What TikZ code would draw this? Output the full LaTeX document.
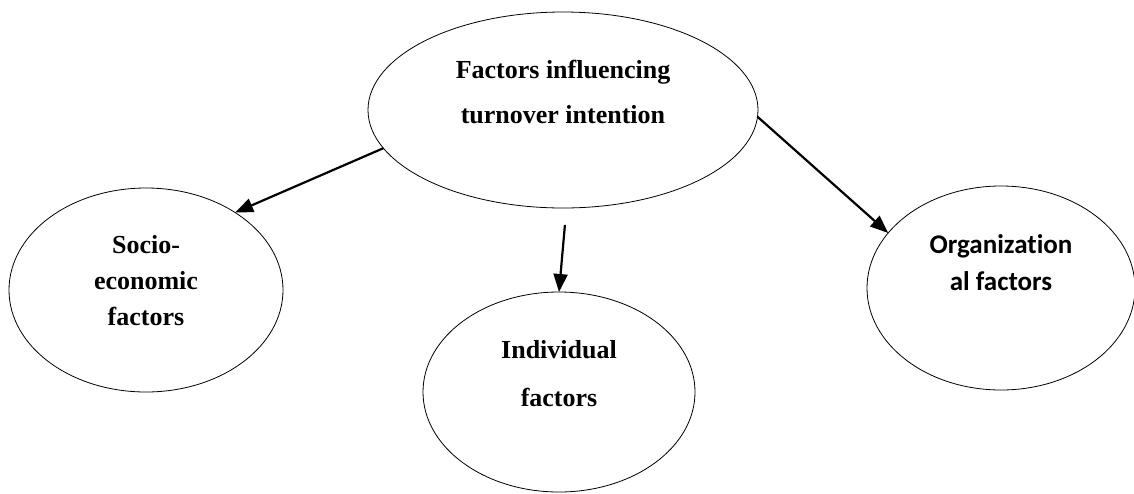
\documentclass[tikz,border=0pt]{standalone}
\usepackage{fontspec}
\setmainfont{Liberation Serif}
\newfontfamily\orgfont[Ligatures={NoCommon}]{Carlito}
\usetikzlibrary{shapes,arrows.meta,positioning,calc}

\begin{document}
\begin{tikzpicture}[x=1pt,y=-1pt,
    bubble/.style={draw, ellipse, line width=0.8pt, inner sep=0pt, outer sep=0pt},
    bubbletext/.style={font=\fontsize{26}{36}\selectfont\bfseries, align=center},
    link/.style={-{Triangle[length=18pt,width=14pt]}, line width=2.2pt}]
    \useasboundingbox (0,0) rectangle (1134,493);

    % Ellipses
    \node[bubble, minimum width=390pt, minimum height=196pt] (factors) at (563,110) {};
    \node[bubble, minimum width=274pt, minimum height=204pt] (socio) at (146,290) {};
    \node[bubble, minimum width=272pt, minimum height=200pt] (indiv) at (559,392) {};
    \node[bubble, minimum width=268pt, minimum height=204pt] (org) at (1001,288) {};

    % Texts
    \node[bubbletext] (factorstext) at ([yshift=18pt]factors.center) {Factors influencing\\[9pt]turnover intention};
    \node[bubbletext] (sociotext) at ([yshift=9pt]socio.center) {Socio-\\economic\\factors};
    \node[bubbletext] (indivtext) at ([yshift=18pt]indiv.center) {Individual\\[12pt]factors};
    \node[bubbletext, font=\fontsize{27}{37}\selectfont\bfseries\orgfont] (orgtext) at ([yshift=25pt]org.center) {Organization\\al factors};

    % Arrows
    \draw[link] (factors.192) -- (socio.41);
    \draw[link, shorten <=17pt] (factors.272) -- (indiv.north);
    \draw[link] (factors.358) -- (org.154);
\end{tikzpicture}
\end{document}
